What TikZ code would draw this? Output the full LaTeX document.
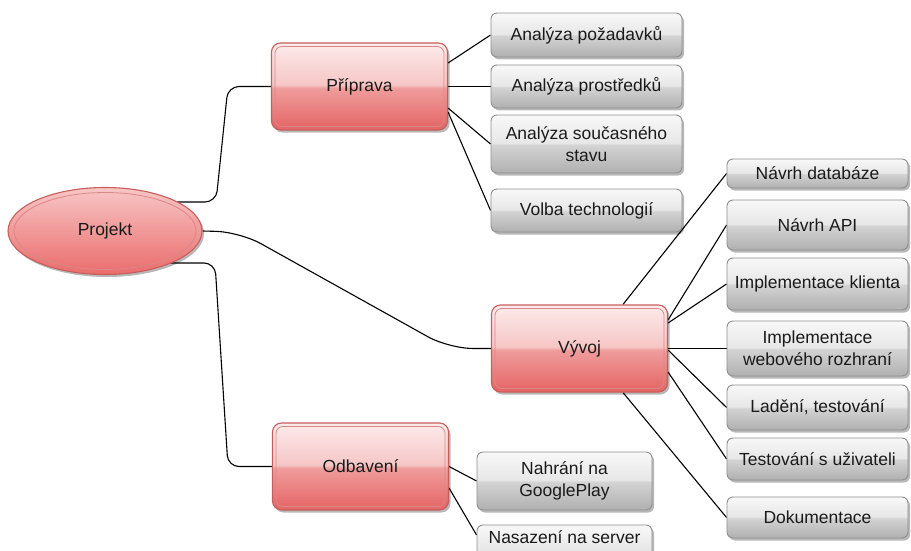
\documentclass[tikz,border=0pt]{standalone}
\usepackage{fontspec}
\setmainfont{Liberation Sans}
\usetikzlibrary{shadows,shapes.geometric}
\pgfdeclarelayer{bg}
\pgfsetlayers{bg,main}

\definecolor{rTop}{HTML}{FDEBEB}
\definecolor{rHi}{HTML}{F6C6C6}
\definecolor{rMid}{HTML}{F09C9C}
\definecolor{rBot}{HTML}{E46464}
\definecolor{rLine}{HTML}{C75E5C}
\definecolor{rInner}{HTML}{D98887}
\definecolor{eTop}{HTML}{F8C6C6}
\definecolor{eBot}{HTML}{EA6C6C}
\definecolor{gTop}{HTML}{F8F8F8}
\definecolor{gHi}{HTML}{E7E7E7}
\definecolor{gMid}{HTML}{D3D3D3}
\definecolor{gBot}{HTML}{B0B0B0}
\definecolor{gLine}{HTML}{8E8E8E}
\definecolor{ink}{HTML}{1A1A1A}

% glossy fills: darker lower half, light upper half with a soft edge at the middle
\pgfdeclareverticalshading{redgloss}{100bp}{color(0bp)=(rBot); color(25bp)=(rBot); color(49bp)=(rMid); color(51bp)=(rHi); color(75bp)=(rTop); color(100bp)=(rTop)}
\pgfdeclareverticalshading{greygloss}{100bp}{color(0bp)=(gBot); color(25bp)=(gBot); color(49bp)=(gMid); color(51bp)=(gHi); color(75bp)=(gTop); color(100bp)=(gTop)}

\begin{document}
\begin{tikzpicture}[x=1pt,y=-1pt,
  every node/.style={font=\fontsize{17.5}{22}\selectfont, text=ink, align=center, inner sep=0pt},
  boxshadow/.style={drop shadow={shadow xshift=2pt, shadow yshift=-2.5pt, opacity=0.28, fill=black}},
  redbox/.style={rectangle, rounded corners=9pt, draw=rLine, line width=1.1pt, shading=redgloss,
    boxshadow, minimum width=176pt, minimum height=87pt},
  greybox/.style={rectangle, rounded corners=6pt, draw=gLine, line width=0.9pt, shading=greygloss,
    boxshadow},
  prepbox/.style={greybox, minimum width=191pt},
  devbox/.style={greybox, minimum width=181pt},
  relbox/.style={greybox, minimum width=175pt},
  redinner/.style={draw=rInner, line width=0.8pt},
  conn/.style={draw=black, line width=1.1pt},
]
\useasboundingbox (0,0) rectangle (911,551);

% root
\node[ellipse, draw=rLine, line width=1.1pt, top color=eTop, bottom color=eBot, boxshadow,
      minimum width=194pt, minimum height=87pt] (proj) at (105,231) {Projekt};
\draw[redinner] (proj.center) ellipse [x radius=91pt, y radius=38.5pt];

% main branches
\node[redbox] (prip) at (359.5,86.5) {Příprava};
\node[redbox] (vyv) at (579.5,348.5) {Vývoj};
\node[redbox] (odb) at (360.5,466.5) {Odbavení};
\foreach \n in {prip,vyv,odb}
  \draw[redinner, rounded corners=7pt] ([shift={(4pt,-4pt)}]\n.north west) rectangle ([shift={(-4pt,4pt)}]\n.south east);

% preparation tasks
\node[prepbox, minimum height=44pt] (pa1) at (586.5,35) {Analýza požadavků};
\node[prepbox, minimum height=43pt] (pa2) at (586.5,86.5) {Analýza prostředků};
\node[prepbox, minimum height=58pt] (pa3) at (586.5,144) {Analýza současného\\stavu};
\node[prepbox, minimum height=43pt] (pa4) at (586.5,210.5) {Volba technologií};

% development tasks
\node[devbox, minimum height=29pt] (vd1) at (817.5,173.5) {Návrh databáze};
\node[devbox, minimum height=50pt] (vd2) at (817.5,225) {Návrh API};
\node[devbox, minimum height=52pt] (vd3) at (817.5,284) {Implementace klienta};
\node[devbox, minimum height=55pt] (vd4) at (817.5,348.5) {Implementace\\webového rozhraní};
\node[devbox, minimum height=45pt] (vd5) at (817.5,407.5) {Ladění, testování};
\node[devbox, minimum height=42pt] (vd6) at (817.5,459) {Testování s uživateli};
\node[devbox, minimum height=41pt] (vd7) at (817.5,517.5) {Dokumentace};

% release tasks (the last box runs past the lower edge)
\node[relbox, minimum height=58pt] (ob1) at (564.5,481) {Nahrání na\\GooglePlay};
\node[relbox, minimum height=52pt] (ob2) at (564.5,551) {\raisebox{28pt}{Nasazení na server}};

% connectors
\begin{pgfonlayer}{bg}
  \draw[conn, rounded corners=11pt] ([shift={(60pt,29pt)}]proj.center) -- (216,202) -- (228,86.5) -- (prip.west);
  \draw[conn, rounded corners=24pt] (proj.east) -- (240,232) -- (449,348.5) -- (vyv.west);
  \draw[conn, rounded corners=11pt] ([shift={(60pt,-32pt)}]proj.center) -- (215,263) -- (228,466.5) -- (odb.west);

  \draw[conn] ([yshift=23.5pt]prip.east) -- (pa1.west);
  \draw[conn] (prip.east) -- (pa2.west);
  \draw[conn] ([yshift=-21.5pt]prip.east) -- (pa3.west);
  \draw[conn] ([yshift=-25.5pt]prip.east) -- (pa4.west);

  \draw[conn] ([xshift=43.5pt]vyv.north) -- (vd1.west);
  \draw[conn] ([yshift=28.5pt]vyv.east) -- (vd2.west);
  \draw[conn] ([yshift=25.5pt]vyv.east) -- (vd3.west);
  \draw[conn] (vyv.east) -- (vd4.west);
  \draw[conn] ([yshift=-1.5pt]vyv.east) -- (vd5.west);
  \draw[conn] ([yshift=-23.5pt]vyv.east) -- (vd6.west);
  \draw[conn] ([xshift=43.5pt]vyv.south) -- (vd7.west);

  \draw[conn] (odb.east) -- (ob1.west);
  \draw[conn] ([yshift=-21.5pt]odb.east) -- ([yshift=16pt]ob2.west);
\end{pgfonlayer}
\end{tikzpicture}
\end{document}
